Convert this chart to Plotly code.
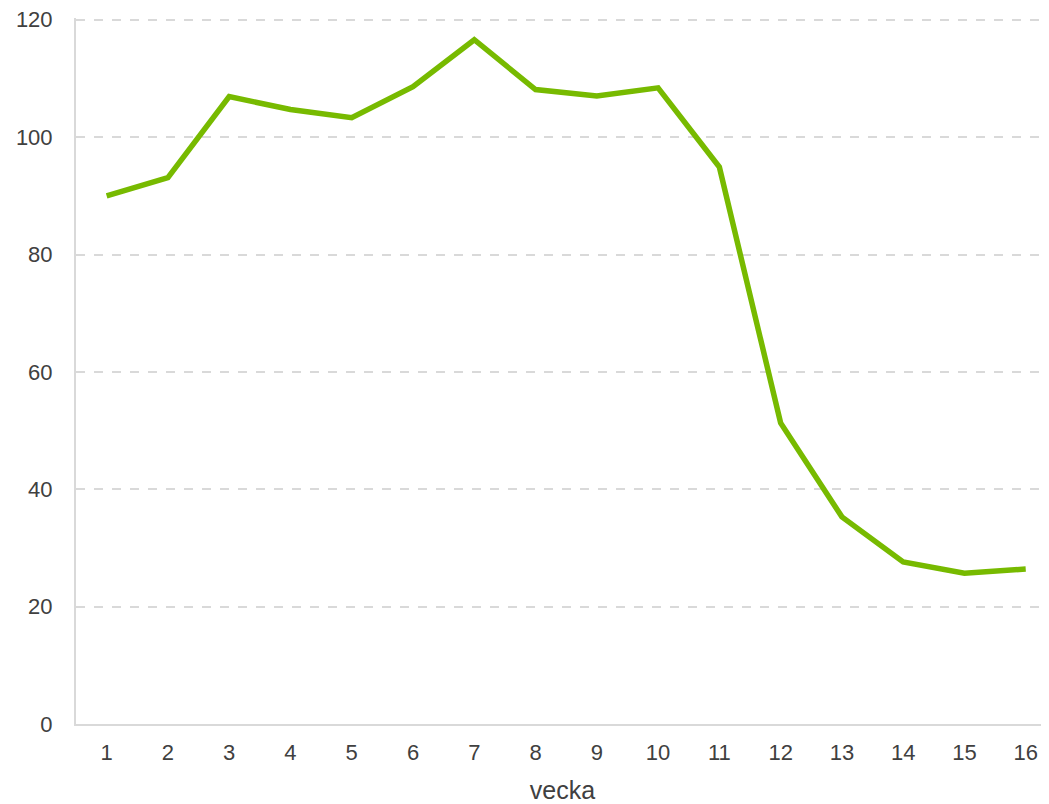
import plotly.graph_objects as go

weeks = list(range(1, 17))
values = [90.0, 93.1, 106.9, 104.7, 103.3, 108.6, 116.6, 108.1, 107.0, 108.4,
          94.9, 51.3, 35.3, 27.6, 25.7, 26.4]
y_ticks = [0, 20, 40, 60, 80, 100, 120]
x_title = "vecka"

fig = go.Figure()
fig.add_trace(go.Scatter(
    x=weeks, y=values, mode="lines",
    line=dict(color="#77BA00", width=5.5),
    hoverinfo="x+y", showlegend=False,
))

font_color = "#404040"
fig.update_layout(
    width=1041, height=796,
    margin=dict(l=68, r=0, t=10, b=80),
    paper_bgcolor="white", plot_bgcolor="white",
    font=dict(family="Liberation Sans, Arial, sans-serif", size=22, color=font_color),
    xaxis=dict(
        range=[0.5, 16.38], tickmode="array", tickvals=weeks,
        ticktext=[str(w) for w in weeks],
        showgrid=False, zeroline=False,
        showline=True, linecolor="#D9D9D9", linewidth=2,
        ticks="outside", ticklen=8, tickcolor="white",
        ticklabeloverflow="allow",
        title=dict(text=x_title, standoff=18, font=dict(size=25, color=font_color)),
    ),
    yaxis=dict(
        range=[0, 120.3], tickmode="array", tickvals=y_ticks,
        ticktext=[str(v) for v in y_ticks],
        showgrid=True, gridcolor="#D9D9D9", gridwidth=1.5, griddash="dash",
        zeroline=False, showline=True, linecolor="#D9D9D9", linewidth=2,
        ticks="outside", ticklen=17, tickcolor="white",
        ticklabeloverflow="allow",
    ),
)

fig.write_html("out.html")
